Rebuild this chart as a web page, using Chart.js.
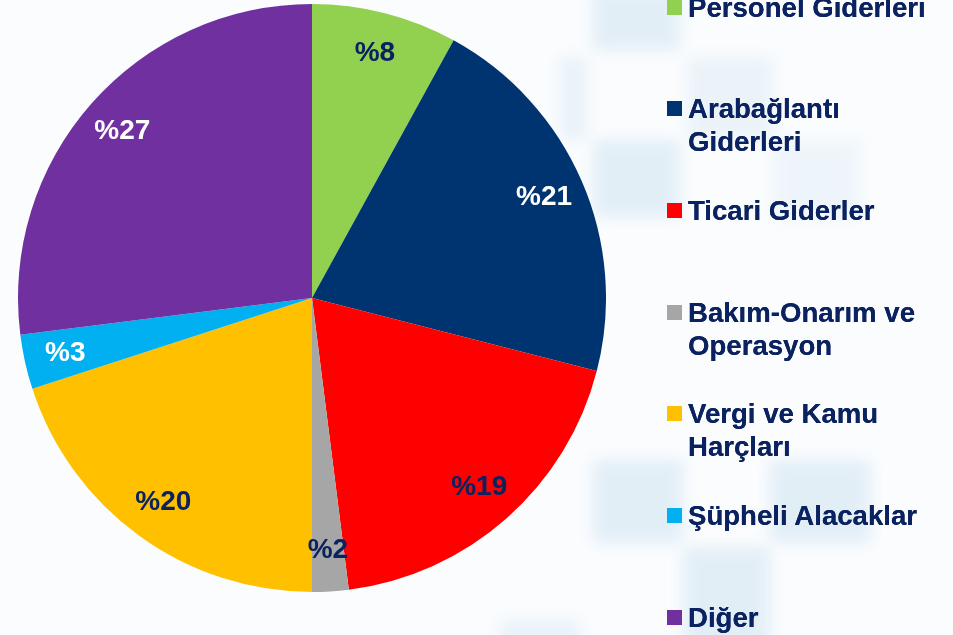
<!DOCTYPE html>
<html lang="tr">
<head>
<meta charset="utf-8">
<title>Gider Dağılımı</title>
<script src="https://cdn.jsdelivr.net/npm/chart.js@4.4.1/dist/chart.umd.min.js"></script>
<style>
  html, body {
    margin: 0;
    padding: 0;
    width: 953px;
    height: 635px;
    overflow: hidden;
    background: #fafcfe;
    font-family: 'Liberation Sans', Arial, sans-serif;
  }
  .bg-tile {
    position: absolute;
    background: #d9e9f4;
    filter: blur(7px);
    opacity: 0.7;
  }
  #chart-box {
    position: absolute;
    left: 18px;
    top: 4px;
    width: 588px;
    height: 588px;
  }
  #legend {
    position: absolute;
    left: 0;
    top: 0;
    width: 953px;
    height: 635px;
  }
  .legend-item {
    position: absolute;
    left: 667px;
    font-weight: bold;
    font-size: 27.6px;
    line-height: 33px;
    color: #0a2260;
    text-shadow: 0 0 0.6px #0a2260;
  }
  .legend-box {
    position: absolute;
    left: 0;
    top: 9px;
    width: 15px;
    height: 15px;
  }
  .legend-text {
    margin-left: 21px;
    white-space: nowrap;
  }
</style>
</head>
<body>
<div class="bg-tile" style="left:593px;top:-10px;width:87px;height:60px;"></div>
<div class="bg-tile" style="left:687px;top:57px;width:86px;height:83px;opacity:0.45;"></div>
<div class="bg-tile" style="left:560px;top:57px;width:27px;height:83px;opacity:0.5;"></div>
<div class="bg-tile" style="left:593px;top:140px;width:87px;height:77px;"></div>
<div class="bg-tile" style="left:773px;top:140px;width:87px;height:77px;opacity:0.35;"></div>
<div class="bg-tile" style="left:593px;top:460px;width:90px;height:83px;"></div>
<div class="bg-tile" style="left:770px;top:460px;width:100px;height:83px;"></div>
<div class="bg-tile" style="left:683px;top:547px;width:87px;height:100px;"></div>
<div class="bg-tile" style="left:500px;top:620px;width:80px;height:30px;opacity:0.5;"></div>

<div id="chart-box"><canvas id="my-chart"></canvas></div>
<div id="legend"></div>

<script>
'use strict';

// ***** DATA *****
let categories = [
  ['Personel Giderleri'],
  ['Arabağlantı', 'Giderleri'],
  ['Ticari Giderler'],
  ['Bakım-Onarım ve', 'Operasyon'],
  ['Vergi ve Kamu', 'Harçları'],
  ['Şüpheli Alacaklar'],
  ['Diğer']
];
let shares = [8, 21, 19, 2, 20, 3, 27];
let sliceColors = ['#92d050', '#003471', '#ff0000', '#a6a6a6', '#ffc000', '#00b0f0', '#7030a0'];
let labelColors = ['#0a2260', '#ffffff', '#0a2260', '#0a2260', '#0a2260', '#ffffff', '#ffffff'];

// ***** DOM *****
let ctx = document.getElementById('my-chart');
let legendBox = document.getElementById('legend');

// ***** PLUGINS *****
// writes "%value" inside each slice, a bit outside the middle of the radius
let sliceLabels = {
  id: 'sliceLabels',
  afterDatasetsDraw(chart) {
    let c = chart.ctx;
    let arcs = chart.getDatasetMeta(0).data;
    c.save();
    c.font = 'bold 28px "Liberation Sans", Arial, sans-serif';
    c.textAlign = 'center';
    c.textBaseline = 'middle';
    for (let i = 0; i < arcs.length; i++) {
      let arc = arcs[i];
      let mid = (arc.startAngle + arc.endAngle) / 2;
      let r = arc.outerRadius * 0.86;
      c.fillStyle = labelColors[i];
      c.fillText('%' + shares[i], arc.x + Math.cos(mid) * r, arc.y + Math.sin(mid) * r);
    }
    c.restore();
  }
};

// ***** LEGEND *****
function renderLegend() {
  for (let i = 0; i < categories.length; i++) {
    let item = document.createElement('div');
    item.className = 'legend-item';
    item.style.top = (-9.5 + i * 101.7) + 'px';

    let box = document.createElement('span');
    box.className = 'legend-box';
    box.style.background = sliceColors[i];

    let text = document.createElement('div');
    text.className = 'legend-text';
    text.innerHTML = categories[i].join('<br>');

    item.appendChild(box);
    item.appendChild(text);
    legendBox.appendChild(item);
  }
}

// ***** CHART *****
function renderChart() {
  let chartObj = {
    type: 'pie',
    data: {
      labels: categories,
      datasets: [{
        data: shares,
        backgroundColor: sliceColors,
        borderWidth: 0
      }]
    },
    options: {
      responsive: true,
      maintainAspectRatio: false,
      animation: false,
      layout: { padding: 0 },
      plugins: {
        legend: { display: false },
        tooltip: { enabled: false }
      }
    },
    plugins: [sliceLabels]
  };

  new Chart(ctx, chartObj);
}

renderLegend();
renderChart();
</script>
</body>
</html>
